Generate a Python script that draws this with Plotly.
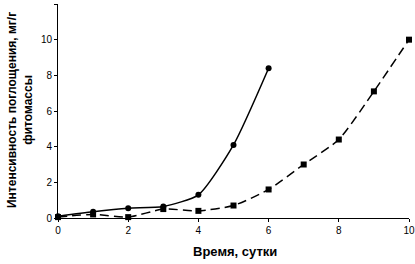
import plotly.graph_objects as go

days_a = [0, 1, 2, 3, 4, 5, 6]
vals_a = [0.1, 0.35, 0.55, 0.65, 1.3, 4.1, 8.4]
days_b = [0, 1, 2, 3, 4, 5, 6, 7, 8, 9, 10]
vals_b = [0.05, 0.2, 0.05, 0.5, 0.4, 0.7, 1.6, 3.0, 4.4, 7.1, 10.0]
x_ticks = [0, 2, 4, 6, 8, 10]
y_ticks = [0, 2, 4, 6, 8, 10, 12]

L, R, T, B = 58, 6, 4, 46
W, H = 415, 264
pw, ph = W - L - R, H - T - B

fig = go.Figure()
fig.add_trace(go.Scatter(x=days_a, y=vals_a, mode="lines+markers", cliponaxis=False,
                         line=dict(color="black", width=1.5, shape="spline", smoothing=0.6),
                         marker=dict(symbol="circle", size=6, color="black")))
fig.add_trace(go.Scatter(x=days_b, y=vals_b, mode="lines+markers", cliponaxis=False,
                         line=dict(color="black", width=1.5, dash="9px,5px", shape="spline", smoothing=0.6),
                         marker=dict(symbol="square", size=6, color="black")))

fig.add_annotation(text="<b>Время, сутки</b>", xref="paper", yref="paper",
                   x=(235 - L) / pw, y=(H - B - 252) / ph, showarrow=False,
                   font=dict(size=13), xanchor="center", yanchor="middle")
fig.add_annotation(text="<b>Интенсивность поглощения, мг/г<br>фитомассы</b>",
                   xref="paper", yref="paper", textangle=-90,
                   x=(20 - L) / pw, y=(H - B - 110) / ph, showarrow=False,
                   font=dict(size=12), xanchor="center", yanchor="middle", align="center")

fig.update_layout(
    width=W, height=H,
    margin=dict(l=L, r=R, t=T, b=B, autoexpand=False),
    paper_bgcolor="white", plot_bgcolor="white",
    showlegend=False,
    font=dict(family="Liberation Sans, Arial", size=10, color="black"),
    xaxis=dict(range=[0, 10], tickvals=x_ticks, showgrid=False, zeroline=False,
               showline=True, linecolor="black", linewidth=1, automargin=False,
               ticks="outside", ticklen=3, tickcolor="black"),
    yaxis=dict(range=[0, 12], tickvals=y_ticks, showgrid=False, zeroline=False,
               showline=True, linecolor="black", linewidth=1, automargin=False,
               ticks="outside", ticklen=3, tickcolor="black"),
)
fig.write_html("out.html", config={"displayModeBar": False},
               post_script="document.body.style.margin='0';document.body.style.overflow='hidden';")
